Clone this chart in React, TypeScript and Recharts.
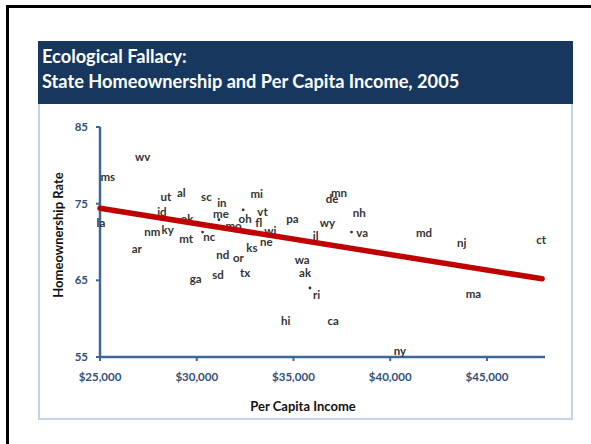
import { Scatter, ScatterChart, XAxis, YAxis } from 'recharts';

// state labels: per capita income vs homeownership rate
const states = ['wv', 'ms', 'ut', 'al', 'sc', 'id', 'in', 'me', 'ok', 'la', 'nm', 'ky', 'mt', 'nc', 'ar', 'nd', 'or', 'ga', 'sd', 'mi', 'mn', 'de', 'oh', 'vt', 'mo', 'fl', 'pa', 'wy', 'nh', 'va', 'wi', 'ne', 'il', 'ks', 'wa', 'ak', 'tx', 'ri', 'hi', 'ca', 'md', 'nj', 'ct', 'ma', 'ny'];
const income = [27200, 25400, 28400, 29200, 30500, 28200, 31300, 31250, 29500, 25050, 27700, 28500, 29450, 30650, 26900, 31350, 32150, 29950, 31100, 33100, 37350, 37000, 32500, 33400, 31900, 33200, 34950, 36750, 38400, 38550, 33800, 33600, 36150, 32850, 35450, 35600, 32500, 36200, 34600, 37050, 41750, 43700, 47800, 44300, 40500];
const ownership = [81.1, 78.6, 75.9, 76.4, 76.0, 74.0, 75.2, 73.7, 73.1, 72.5, 71.4, 71.6, 70.4, 70.7, 69.1, 68.4, 68.0, 65.2, 65.7, 76.3, 76.4, 75.7, 73.1, 74.0, 72.2, 72.5, 73.1, 72.6, 73.9, 71.3, 71.5, 70.1, 70.8, 69.3, 67.7, 66.0, 66.0, 63.1, 59.8, 59.7, 71.2, 69.9, 70.3, 63.3, 55.9];

// stray marker dots next to a few labels
const dotIncome = [31150, 32400, 30300, 38000, 35850];
const dotOwnership = [72.9, 74.2, 71.3, 71.3, 64.0];

// fitted line ends
const trendIncome = [25000, 47850];
const trendOwnership = [74.4, 65.2];

const xTicks = [25000, 30000, 35000, 40000, 45000];
const yTicks = [55, 65, 75, 85];

const labels = states.map((s, i) => ({ state: s, x: income[i], y: ownership[i] }));
const dots = dotIncome.map((x, i) => ({ x, y: dotOwnership[i] }));
const trend = trendIncome.map((x, i) => ({ x, y: trendOwnership[i] }));

const AXIS = '#3F6796';
const TICK = '#34507A';
const FONT = 'Lato, "Open Sans", sans-serif';

const tickStyle = { fill: TICK, fontSize: 11.5, fontWeight: 700, fontFamily: FONT };

function StateLabel(props: any) {
  const { cx, cy, payload } = props;
  return (
    <text
      x={cx}
      y={cy}
      textAnchor="middle"
      dominantBaseline="central"
      fontSize={11.5}
      fontWeight={700}
      fontFamily={FONT}
      fill="#333"
    >
      {payload.state}
    </text>
  );
}

export default function App() {
  return (
    <div style={{ position: 'absolute', left: 0, top: 0, width: 591, height: 444, overflow: 'hidden', background: '#fff' }}>
      <div style={{ position: 'absolute', left: 6, top: 5, width: 600, height: 460, border: '3px solid #000' }} />
      <div
        style={{
          position: 'absolute',
          left: 38,
          top: 104,
          width: 531,
          height: 314,
          borderLeft: '2px solid #C3D3EC',
          borderRight: '2px solid #C3D3EC',
          borderBottom: '2px solid #C3D3EC',
        }}
      />
      <div
        style={{
          position: 'absolute',
          left: 38,
          top: 41,
          width: 535,
          height: 63,
          background: '#17375E',
          color: '#fff',
          fontFamily: FONT,
          fontWeight: 700,
          fontSize: 18.2,
          lineHeight: '25px',
          boxSizing: 'border-box',
          padding: '3px 0 0 4px',
        }}
      >
        <div>Ecological Fallacy:</div>
        <div>State Homeownership and Per Capita Income, 2005</div>
      </div>
      <div style={{ position: 'absolute', left: 0, top: 0 }}>
        <ScatterChart width={591} height={444} margin={{ top: 127, right: 46, bottom: 57, left: 0 }}>
          <XAxis
            type="number"
            dataKey="x"
            domain={[25000, 48000]}
            ticks={xTicks}
            tickFormatter={(v: number) => '$' + v.toLocaleString('en-US')}
            height={30}
            axisLine={{ stroke: AXIS, strokeWidth: 2.5 }}
            tickLine={{ stroke: AXIS, strokeWidth: 2 }}
            tickSize={4}
            tickMargin={12}
            tick={tickStyle}
          />
          <YAxis
            type="number"
            dataKey="y"
            domain={[55, 85]}
            ticks={yTicks}
            width={100}
            axisLine={{ stroke: AXIS, strokeWidth: 2.5 }}
            tickLine={{ stroke: AXIS, strokeWidth: 2 }}
            tickSize={4}
            tickMargin={8}
            tick={tickStyle}
          />
          <Scatter data={labels} shape={StateLabel} isAnimationActive={false} />
          <Scatter
            data={dots}
            shape={(p: any) => <circle cx={p.cx} cy={p.cy} r={1.4} fill="#333" />}
            isAnimationActive={false}
          />
          <Scatter
            data={trend}
            line={{ stroke: '#C00000', strokeWidth: 5.5, strokeLinecap: 'round' }}
            shape={() => <g />}
            isAnimationActive={false}
          />
        </ScatterChart>
      </div>
      <div
        style={{
          position: 'absolute',
          left: 0,
          top: 398,
          width: 606,
          textAlign: 'center',
          fontFamily: FONT,
          fontWeight: 700,
          fontSize: 13,
          color: '#111',
        }}
      >
        Per Capita Income
      </div>
      <div
        style={{
          position: 'absolute',
          left: 58,
          top: 235,
          transform: 'translate(-50%, -50%) rotate(-90deg)',
          whiteSpace: 'nowrap',
          fontFamily: FONT,
          fontWeight: 700,
          fontSize: 13,
          color: '#111',
        }}
      >
        Homeownership Rate
      </div>
    </div>
  );
}
